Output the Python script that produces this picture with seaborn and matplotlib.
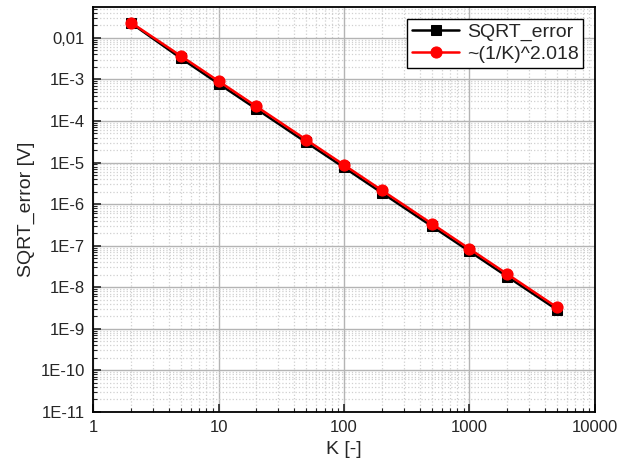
import numpy as np
import pandas as pd
import seaborn as sns
import matplotlib
matplotlib.use("Agg")
import matplotlib.pyplot as plt
from matplotlib.ticker import FuncFormatter, LogLocator, NullFormatter

# data
K = [2, 5, 10, 20, 50, 100, 200, 500, 1000, 2000, 5000]
sqrt_error = [0.0228, 3.25e-3, 7.9e-4, 1.95e-4, 3.05e-5, 7.6e-6,
              1.87e-6, 2.95e-7, 7.3e-8, 1.8e-8, 2.85e-9]
fit_error = [0.0234, 3.68e-3, 9.1e-4, 2.24e-4, 3.53e-5, 8.73e-6,
             2.15e-6, 3.39e-7, 8.37e-8, 2.07e-8, 3.25e-9]
labels = ["SQRT_error", "~(1/K)^2.018"]

df = pd.DataFrame({"K": K, labels[0]: sqrt_error, labels[1]: fit_error})

sns.set_style("white")
plt.rcParams['font.family'] = ['Liberation Sans', 'DejaVu Sans']

fig = plt.figure(figsize=(6.21, 4.75), dpi=100)
ax = fig.add_axes([0.150, 0.133, 0.808, 0.852])

sns.lineplot(data=df, x="K", y=labels[0], ax=ax, color="black", marker="s",
             markersize=7, markeredgecolor="black", linewidth=1.8, label=labels[0])
sns.lineplot(data=df, x="K", y=labels[1], ax=ax, color="red", marker="o",
             markersize=8, markeredgecolor="red", linewidth=1.8, label=labels[1])

ax.set_xscale("log")
ax.set_yscale("log")
ax.set_xlim(1, 10000)
ax.set_ylim(1e-11, 0.055)

ax.xaxis.set_major_locator(LogLocator(base=10, numticks=20))
ax.xaxis.set_minor_locator(LogLocator(base=10, subs=np.arange(2, 10), numticks=50))
ax.yaxis.set_major_locator(LogLocator(base=10, numticks=20))
ax.yaxis.set_minor_locator(LogLocator(base=10, subs=np.arange(2, 10), numticks=50))

def xfmt(v, pos):
    return f"{v:.0f}"

def yfmt(v, pos):
    e = int(round(np.log10(v)))
    if e == -2:
        return "0,01"
    if e == -1:
        return "0,1"
    return f"1E{e}"

ax.xaxis.set_major_formatter(FuncFormatter(xfmt))
ax.yaxis.set_major_formatter(FuncFormatter(yfmt))
ax.xaxis.set_minor_formatter(NullFormatter())
ax.yaxis.set_minor_formatter(NullFormatter())

ax.grid(which="major", color="#b4b4b4", linestyle="-", linewidth=1.0)
ax.grid(which="minor", color="#d0d0d0", linestyle=":", linewidth=0.9)
ax.set_axisbelow(True)

ax.tick_params(which="major", direction="in", length=6, width=1.2, labelsize=12,
               left=True, bottom=True, top=False, right=False, pad=6)
ax.tick_params(which="minor", direction="in", length=3, width=0.8,
               left=True, bottom=True, top=False, right=False)

for s in ax.spines.values():
    s.set_visible(True)
    s.set_color("black")
    s.set_linewidth(1.3)

ax.set_xlabel("K [-]", fontsize=14, labelpad=4)
ax.set_ylabel("SQRT_error [V]", fontsize=14, labelpad=4)

leg = ax.legend(loc="upper right", fontsize=14, frameon=True, fancybox=False,
                edgecolor="black", framealpha=1, handlelength=2.4,
                borderpad=0.25, labelspacing=0.2, handletextpad=0.4,
                borderaxespad=0.6)
leg.get_frame().set_linewidth(1.0)

fig.savefig("out.png", dpi=100)
